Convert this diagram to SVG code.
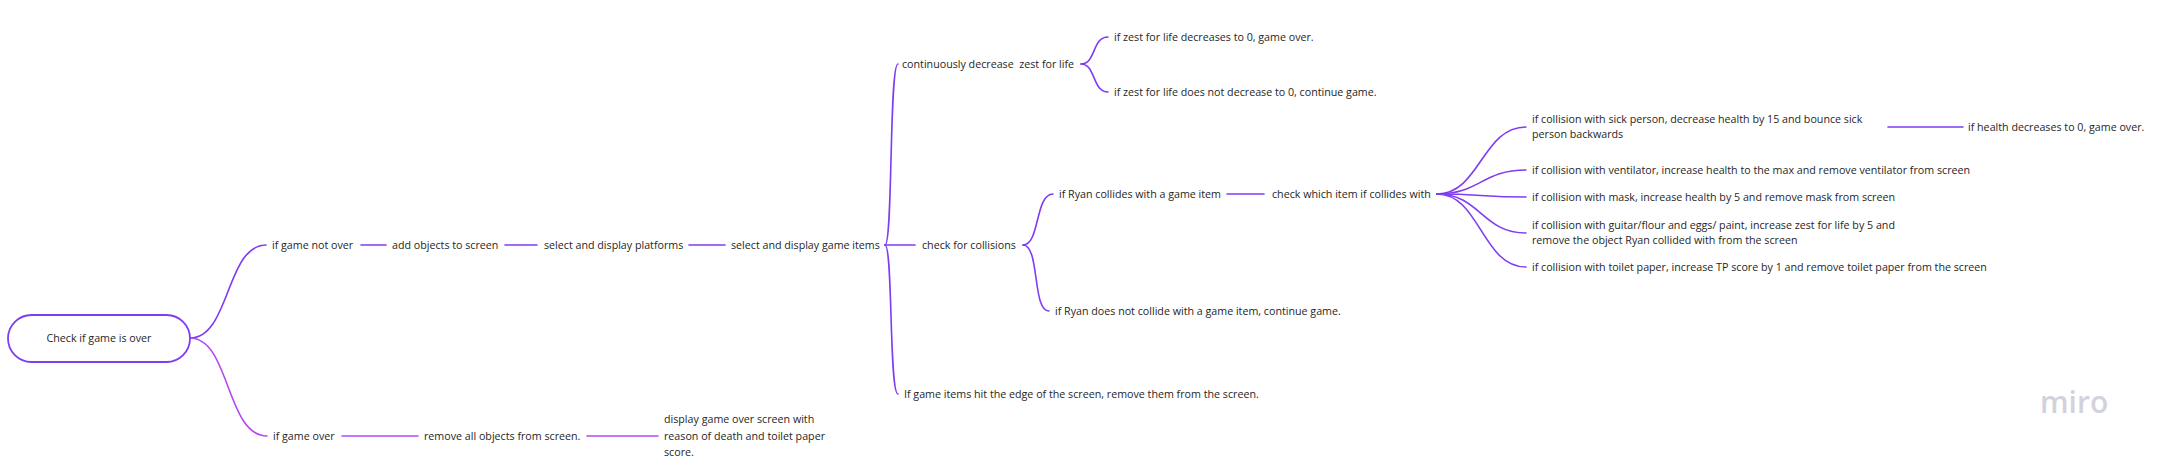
<svg xmlns="http://www.w3.org/2000/svg" width="2157" height="463" viewBox="0 0 2157 463">
<style>
.t{font-family:"Open Sans","Noto Sans","Liberation Sans",sans-serif;font-size:10.7px;fill:#1f1f1f;white-space:pre}
.c{fill:none;stroke:#7f3cf2;stroke-width:1.6;stroke-linecap:round}
.c2{fill:none;stroke:#b348f6;stroke-width:1.6;stroke-linecap:round}
.logo{font-family:"Open Sans","Noto Sans",sans-serif;font-size:30px;font-weight:600;fill:#d2d2dc}
</style>
<rect width="2157" height="463" fill="#ffffff"/>
<g id="connectors">
<path class="c" d="M190,338 C230,338 226,245 266,245"/>
<path class="c2" d="M190,338 C230,338 226,436 267,436"/>
<path class="c" d="M361,245 H386"/>
<path class="c" d="M505,245 H537"/>
<path class="c" d="M689,245 H725"/>
<path class="c" d="M885,245 C893,245 889,64 898,64"/>
<path class="c" d="M885,245 H915"/>
<path class="c" d="M885,245 C893,245 889,394 898,394"/>
<path class="c" d="M1081,64 C1096,64 1092,37 1108,37"/>
<path class="c" d="M1081,64 C1096,64 1092,92 1108,92"/>
<path class="c" d="M1023,245 C1040,245 1035,194 1053,194"/>
<path class="c" d="M1023,245 C1040,245 1032,311 1049,311"/>
<path class="c" d="M1227,194 H1264"/>
<path class="c" d="M1437,194 C1480,194 1482,127 1526,127"/>
<path class="c" d="M1437,194 C1480,194 1482,170 1526,170"/>
<path class="c" d="M1437,194 C1480,194 1482,197 1526,197"/>
<path class="c" d="M1437,194 C1480,194 1482,233 1526,233"/>
<path class="c" d="M1437,194 C1480,194 1482,267 1526,267"/>
<path class="c" d="M1888,127 H1963"/>
<path class="c2" d="M342,436 H418"/>
<path class="c2" d="M587,436 H658"/>
</g>
<g id="root">
<rect x="8" y="315" width="182" height="47" rx="23.5" fill="#ffffff" stroke="#7f3cf2" stroke-width="1.8"/>
<text class="t" x="99" y="341.5" text-anchor="middle">Check if game is over</text>
</g>
<g id="n-notover"><text class="t" x="272" y="248.5">if game not over</text></g>
<g id="n-add"><text class="t" x="392" y="248.5">add objects to screen</text></g>
<g id="n-platforms"><text class="t" x="544" y="248.5">select and display platforms</text></g>
<g id="n-items"><text class="t" x="731" y="248.5">select and display game items</text></g>
<g id="n-zest"><text class="t" x="902" y="67.5">continuously decrease  zest for life</text></g>
<g id="n-zest0"><text class="t" x="1114" y="40.5">if zest for life decreases to 0, game over.</text></g>
<g id="n-zestnot"><text class="t" x="1114" y="95.5">if zest for life does not decrease to 0, continue game.</text></g>
<g id="n-collisions"><text class="t" x="922" y="248.5">check for collisions</text></g>
<g id="n-collides"><text class="t" x="1059" y="197.5">if Ryan collides with a game item</text></g>
<g id="n-which"><text class="t" x="1272" y="197.5">check which item if collides with</text></g>
<g id="n-notcollide"><text class="t" x="1055" y="314.5">if Ryan does not collide with a game item, continue game.</text></g>
<g id="n-edge"><text class="t" x="904" y="397.5">If game items hit the edge of the screen, remove them from the screen.</text></g>
<g id="n-sick"><text class="t" x="1532" y="122.5">if collision with sick person, decrease health by 15 and bounce sick</text><text class="t" x="1532" y="137.5">person backwards</text></g>
<g id="n-health0"><text class="t" x="1968" y="130.5">if health decreases to 0, game over.</text></g>
<g id="n-vent"><text class="t" x="1532" y="173.5">if collision with ventilator, increase health to the max and remove ventilator from screen</text></g>
<g id="n-mask"><text class="t" x="1532" y="200.5">if collision with mask, increase health by 5 and remove mask from screen</text></g>
<g id="n-guitar"><text class="t" x="1532" y="228.5">if collision with guitar/flour and eggs/ paint, increase zest for life by 5 and</text><text class="t" x="1532" y="243.5">remove the object Ryan collided with from the screen</text></g>
<g id="n-tp"><text class="t" x="1532" y="270.5">if collision with toilet paper, increase TP score by 1 and remove toilet paper from the screen</text></g>
<g id="n-over"><text class="t" x="273" y="439.5">if game over</text></g>
<g id="n-remove"><text class="t" x="424" y="439.5">remove all objects from screen.</text></g>
<g id="n-display"><text class="t" x="664" y="423">display game over screen with</text><text class="t" x="664" y="439.5">reason of death and toilet paper</text><text class="t" x="664" y="456">score.</text></g>
<text class="logo" x="2040" y="413">miro</text>
</svg>
